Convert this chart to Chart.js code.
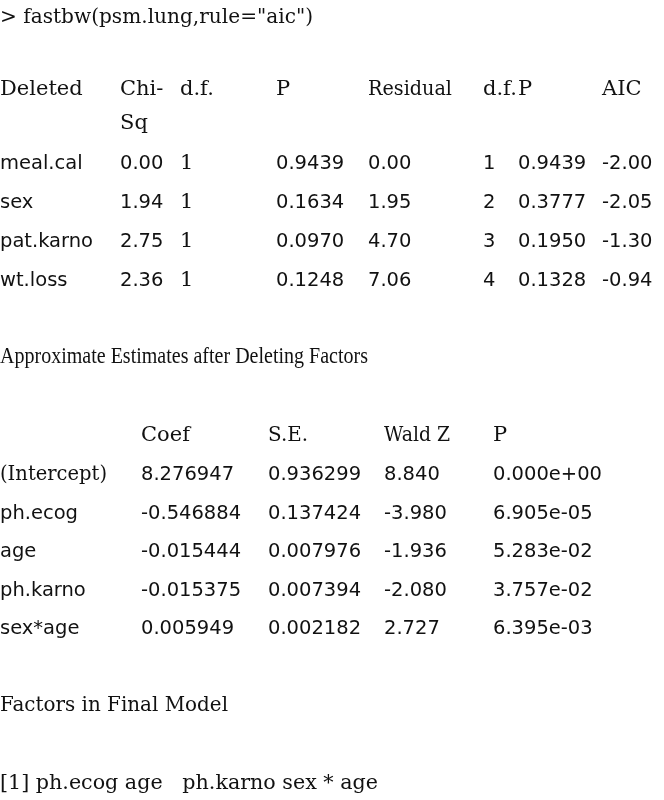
<!DOCTYPE html>
<html>
<head>
<meta charset="utf-8">
<script src="https://cdn.jsdelivr.net/npm/chart.js@4/dist/chart.umd.min.js"></script>
<style>
  html, body { margin: 0; padding: 0; background: #fff; }
  #wrap { width: 664px; height: 800px; }
</style>
</head>
<body>
<div id="wrap"><canvas id="out"></canvas></div>
<script>
// fastbw output, deleted factors
var deleted = ['meal.cal', 'sex', 'pat.karno', 'wt.loss'];
var chiSq = [0.00, 1.94, 2.75, 2.36];
var delDf = [1, 1, 1, 1];
var delP = [0.9439, 0.1634, 0.0970, 0.1248];
var residual = [0.00, 1.95, 4.70, 7.06];
var residDf = [1, 2, 3, 4];
var residP = [0.9439, 0.3777, 0.1950, 0.1328];
var aic = [-2.00, -2.05, -1.30, -0.94];

// approximate estimates after deleting factors
var terms = ['(Intercept)', 'ph.ecog', 'age', 'ph.karno', 'sex*age'];
var coef = [8.276947, -0.546884, -0.015444, -0.015375, 0.005949];
var se = [0.936299, 0.137424, 0.007976, 0.007394, 0.002182];
var waldZ = [8.840, -3.980, -1.936, -2.080, 2.727];
var estP = [0.000e+00, 6.905e-05, 5.283e-02, 3.757e-02, 6.395e-03];

var finalFactors = ['ph.ecog', 'age  ', 'ph.karno', 'sex * age'];

// layout: line centres (y) and column starts (x), in page pixels
var rowTitle = 18, rowHead = 90, rowHead2 = 124;
var rowsDel = [164, 203, 242, 281];
var rowApprox = 357, rowCoefHead = 436;
var rowsEst = [475, 514, 552, 591, 629];
var rowFactors = 706, rowFinal = 784;
var colsDel = [0, 120, 180, 276, 368, 483, 518, 602];
var colsEst = [0, 141, 268, 384, 493];

var SERIF = '21px "DejaVu Serif", serif';
var SERIF_NARROW = '23px "Liberation Serif", serif';
var SANS = '19.5px "DejaVu Sans", sans-serif';

function fixed(n) { return function(v) { return v.toFixed(n); }; }
function sci(v) {
    var s = v.toExponential(3).split('e');
    var e = parseInt(s[1], 10);
    return s[0] + 'e' + (e < 0 ? '-' : '+') + (Math.abs(e) < 10 ? '0' : '') + Math.abs(e);
}

// one dataset per column; every cell is a point placed by the scales
function column(xPos, rows, values, fmt, font, fit) {
    return {
        data: rows.map(function(y) { return {x: xPos, y: y}; }),
        texts: values.map(fmt || String),
        font: font || SANS,
        fit: fit,
        pointRadius: 0,
        pointHoverRadius: 0
    };
}
function single(xPos, y, text, fit, font) {
    return column(xPos, [y], [text], null, font || SERIF, fit);
}

var datasets = [
    single(0, rowTitle, '> fastbw(psm.lung,rule="aic")', 313),
    single(colsDel[0], rowHead, 'Deleted'),
    single(colsDel[1], rowHead, 'Chi-'),
    single(colsDel[1], rowHead2, 'Sq'),
    single(colsDel[2], rowHead, 'd.f.'),
    single(colsDel[3], rowHead, 'P'),
    single(colsDel[4], rowHead, 'Residual', 84),
    single(colsDel[5], rowHead, 'd.f.'),
    single(colsDel[6], rowHead, 'P'),
    single(colsDel[7], rowHead, 'AIC'),
    column(colsDel[0], rowsDel, deleted),
    column(colsDel[1], rowsDel, chiSq, fixed(2)),
    column(colsDel[2], rowsDel, delDf, null, SERIF),
    column(colsDel[3], rowsDel, delP, fixed(4)),
    column(colsDel[4], rowsDel, residual, fixed(2)),
    column(colsDel[5], rowsDel, residDf),
    column(colsDel[6], rowsDel, residP, fixed(4)),
    column(colsDel[7], rowsDel, aic, fixed(2)),

    single(0, rowApprox, 'Approximate Estimates after Deleting Factors', 368, SERIF_NARROW),
    single(colsEst[1], rowCoefHead, 'Coef', 51),
    single(colsEst[2], rowCoefHead, 'S.E.', 40),
    single(colsEst[3], rowCoefHead, 'Wald Z', 66),
    single(colsEst[4], rowCoefHead, 'P'),
    column(colsEst[0], rowsEst.slice(0, 1), terms.slice(0, 1), null, SERIF, 107),
    column(colsEst[0], rowsEst.slice(1), terms.slice(1)),
    column(colsEst[1], rowsEst, coef, fixed(6)),
    column(colsEst[2], rowsEst, se, fixed(6)),
    column(colsEst[3], rowsEst, waldZ, fixed(3)),
    column(colsEst[4], rowsEst, estP, sci),

    single(0, rowFactors, 'Factors in Final Model', 228),
    single(0, rowFinal, '[1] ' + finalFactors.join(' '), 378)
];

var cellText = {
    id: 'cellText',
    afterDatasetsDraw: function(chart) {
        var ctx = chart.ctx;
        ctx.save();
        ctx.fillStyle = '#111';
        ctx.textAlign = 'left';
        ctx.textBaseline = 'middle';
        chart.data.datasets.forEach(function(ds, i) {
            ctx.font = ds.font;
            chart.getDatasetMeta(i).data.forEach(function(pt, j) {
                if (ds.fit) ctx.fillText(ds.texts[j], pt.x, pt.y, ds.fit);
                else ctx.fillText(ds.texts[j], pt.x, pt.y);
            });
        });
        ctx.restore();
    }
};

new Chart(document.getElementById('out').getContext('2d'), {
    type: 'scatter',
    data: {datasets: datasets},
    options: {
        responsive: true,
        maintainAspectRatio: false,
        animation: false,
        layout: {padding: 0},
        plugins: {legend: {display: false}, tooltip: {enabled: false}},
        events: [],
        scales: {
            x: {type: 'linear', min: 0, max: 664, display: false},
            y: {type: 'linear', min: 0, max: 800, reverse: true, display: false}
        }
    },
    plugins: [cellText]
});
</script>
</body>
</html>
